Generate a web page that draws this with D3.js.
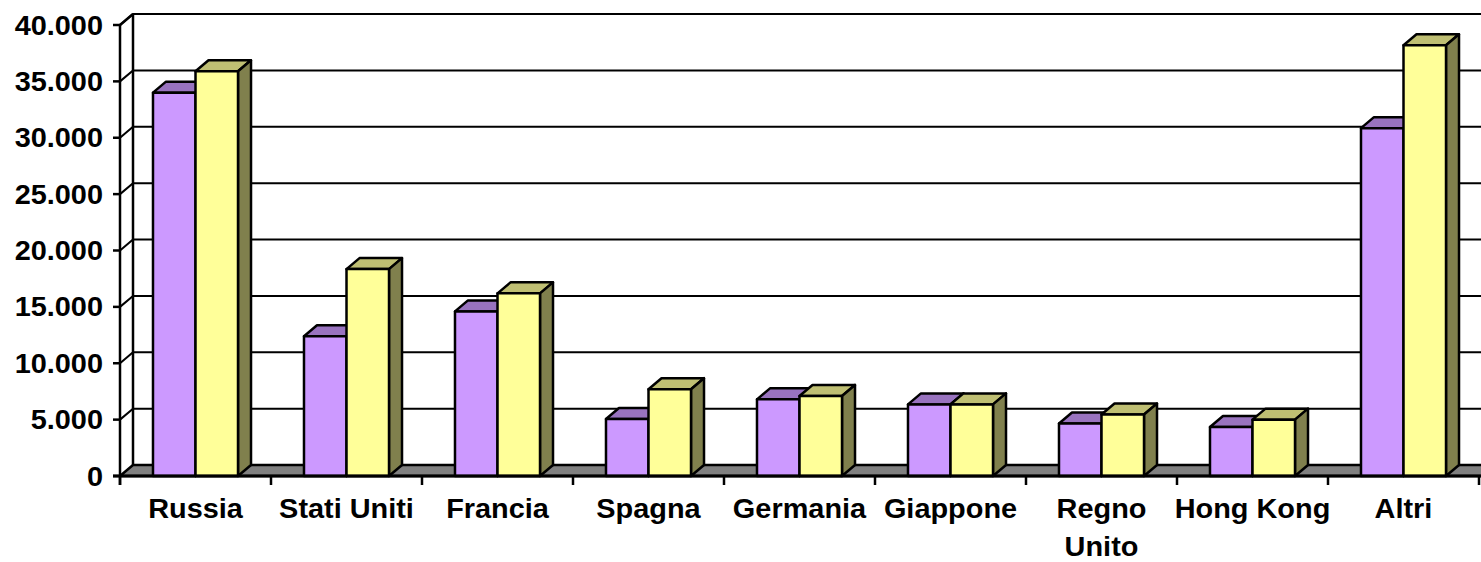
<!DOCTYPE html>
<html>
<head>
    <meta charset="UTF-8">
    <title>chart</title>
    <script src="https://cdn.jsdelivr.net/npm/d3@7"></script>
    <style>
        body { margin: 0; background: #fff; }
        text { font-family: "Liberation Sans", Arial, sans-serif; font-weight: bold; fill: #000; }
    </style>
</head>
<body>
<svg id="chart"></svg>
<script>
    // data
    var categories = ["Russia", "Stati Uniti", "Francia", "Spagna", "Germania", "Giappone", "Regno Unito", "Hong Kong", "Altri"];
    var labelLines = [["Russia"], ["Stati Uniti"], ["Francia"], ["Spagna"], ["Germania"], ["Giappone"], ["Regno", "Unito"], ["Hong Kong"], ["Altri"]];
    var series = ["a", "b"];
    var valuesA = [34000, 12400, 14600, 5050, 6800, 6350, 4650, 4350, 30850];
    var valuesB = [35900, 18350, 16200, 7700, 7100, 6350, 5450, 5000, 38200];
    var yTicks = [0, 5000, 10000, 15000, 20000, 25000, 30000, 35000, 40000];

    var colors = {
        a: {front: "#CC99FF", top: "#9973BF", side: "#664D80"},
        b: {front: "#FFFF99", top: "#BFBF73", side: "#80804D"}
    };

    var W = 1481, H = 562;
    var plotLeft = 120, plotRight = 1479, plotBottom = 476, plotTop = 25;
    var dx = 13, dy = -11;

    var svg = d3.select("#chart").attr("width", W).attr("height", H);

    var x0 = d3.scaleBand().domain(categories).range([plotLeft, plotRight]).paddingInner(0).paddingOuter(0);
    var x1 = d3.scaleBand().domain(series).range([0, x0.bandwidth()]).paddingInner(0).paddingOuter(0.776);
    var y = d3.scaleLinear().domain([0, 40000]).range([plotBottom, plotTop]);

    var fmt = d3.formatLocale({decimal: ",", thousands: ".", grouping: [3], currency: ["", ""]}).format(",d");

    // back wall gridlines + side wall diagonals
    var grid = svg.append("g");
    yTicks.forEach(function (t) {
        if (t == 0) return;
        grid.append("polyline")
            .attr("points", [[plotLeft, y(t)], [plotLeft + dx, y(t) + dy], [W + 20, y(t) + dy]].join(" "))
            .attr("fill", "none").attr("stroke", "#000").attr("stroke-width", 2);
    });
    grid.append("line")
        .attr("x1", plotLeft + dx).attr("y1", y(40000) + dy).attr("x2", plotLeft + dx).attr("y2", y(0) + dy)
        .attr("stroke", "#000").attr("stroke-width", 2.5);

    // floor
    svg.append("polygon")
        .attr("points", [[plotLeft, y(0)], [plotLeft + dx, y(0) + dy], [W + 20, y(0) + dy], [W + 20, y(0)]].join(" "))
        .attr("fill", "#808080").attr("stroke", "#000").attr("stroke-width", 2.5).attr("stroke-linejoin", "round");

    // bars
    var data = [];
    categories.forEach(function (c, i) {
        data.push({cat: c, s: "a", v: valuesA[i]});
        data.push({cat: c, s: "b", v: valuesB[i]});
    });

    function pts(arr) { return arr.map(function (p) { return p.join(","); }).join(" "); }

    svg.append("g").selectAll("g").data(data).enter().append("g").each(function (d) {
        var g = d3.select(this);
        var xa = x0(d.cat) + x1(d.s), xb = xa + x1.bandwidth();
        var yt = y(d.v), yb = y(0);
        g.append("polygon")
            .attr("points", pts([[xa, yt], [xa + dx, yt + dy], [xb + dx, yt + dy], [xb, yt]]))
            .attr("fill", colors[d.s].top);
        g.append("polygon")
            .attr("points", pts([[xb, yt], [xb + dx, yt + dy], [xb + dx, yb + dy], [xb, yb]]))
            .attr("fill", colors[d.s].side);
        g.append("rect")
            .attr("x", xa).attr("y", yt).attr("width", xb - xa).attr("height", yb - yt)
            .attr("fill", colors[d.s].front);
        g.selectAll("polygon, rect")
            .attr("stroke", "#000").attr("stroke-width", 2.5).attr("stroke-linejoin", "round");
    });

    // front axes
    svg.append("line")
        .attr("x1", plotLeft).attr("y1", y(40000)).attr("x2", plotLeft).attr("y2", y(0) + 9)
        .attr("stroke", "#000").attr("stroke-width", 2.5);
    svg.append("line")
        .attr("x1", plotLeft).attr("y1", y(40000)).attr("x2", plotLeft + dx).attr("y2", y(40000) + dy)
        .attr("stroke", "#000").attr("stroke-width", 2.5);
    svg.append("line")
        .attr("x1", plotLeft - 7).attr("y1", y(0)).attr("x2", W + 20).attr("y2", y(0))
        .attr("stroke", "#000").attr("stroke-width", 3);

    // y ticks + labels
    var yAxisG = svg.append("g");
    yTicks.forEach(function (t) {
        yAxisG.append("line")
            .attr("x1", plotLeft - 7).attr("y1", y(t)).attr("x2", plotLeft).attr("y2", y(t))
            .attr("stroke", "#000").attr("stroke-width", 2.5);
        yAxisG.append("text")
            .attr("transform", "translate(" + (plotLeft - 17) + "," + (y(t) + 9.5) + ") scale(1.07,1)")
            .attr("text-anchor", "end")
            .style("font-size", "27px")
            .text(fmt(t));
    });

    // x ticks + labels
    var xAxisG = svg.append("g");
    d3.range(categories.length + 1).forEach(function (k) {
        var xx = plotLeft + k * x0.step();
        xAxisG.append("line")
            .attr("x1", xx).attr("y1", y(0)).attr("x2", xx).attr("y2", y(0) + 9)
            .attr("stroke", "#000").attr("stroke-width", 2.5);
    });
    categories.forEach(function (c, i) {
        var cx = x0(c) + x0.bandwidth() / 2;
        labelLines[i].forEach(function (ln, j) {
            xAxisG.append("text")
                .attr("transform", "translate(" + cx + "," + (518 + j * 38) + ") scale(1.07,1)")
                .attr("text-anchor", "middle")
                .style("font-size", "27px")
                .text(ln);
        });
    });
</script>
</body>
</html>
